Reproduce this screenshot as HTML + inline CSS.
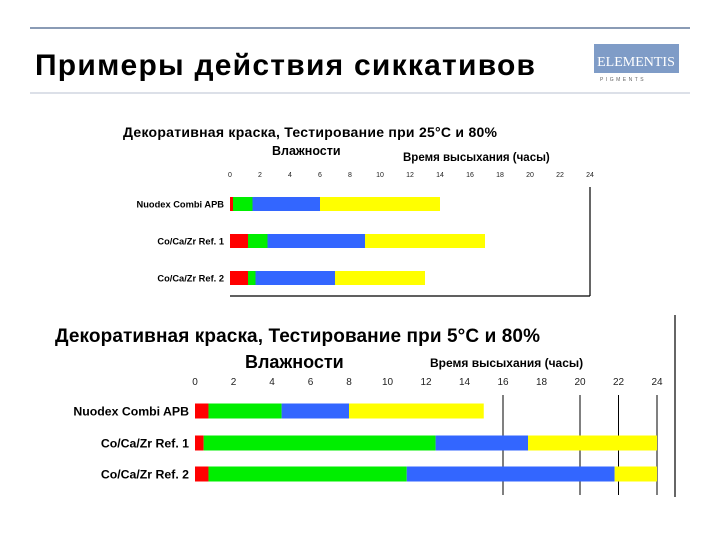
<!DOCTYPE html>
<html><head><meta charset="utf-8"><style>
body{margin:0;background:#fff}
svg text{font-family:"Liberation Sans",sans-serif}
</style></head><body>
<svg width="720" height="540" viewBox="0 0 720 540" xmlns="http://www.w3.org/2000/svg">
<line x1="30" y1="28" x2="690" y2="28" stroke="#8a9bb5" stroke-width="2"/>
<line x1="30" y1="93" x2="690" y2="93" stroke="#b8c2d2" stroke-width="1"/>
<text x="35" y="75" font-size="30" font-weight="bold" fill="#000" textLength="500">Примеры действия сиккативов</text>
<g>
<rect x="594" y="44" width="85" height="29" fill="#7f9cc7"/>
<text x="636" y="66" font-size="14" fill="#fff" text-anchor="middle" font-family="Liberation Serif" style="font-family:'Liberation Serif',serif">ELEMENTIS</text>
<text x="600" y="81" font-size="5" fill="#666" letter-spacing="2.5">PIGMENTS</text>
</g>
<g id="c1"></g>
<g id="c2"></g>
</svg>
<script>
const categories=["Nuodex Combi APB","Co/Ca/Zr Ref. 1","Co/Ca/Zr Ref. 2"];
const ticks=[0,2,4,6,8,10,12,14,16,18,20,22,24];
const colors=["#ff0000","#00ee00","#3366ff","#ffff00"];
// cumulative stage ends (hours): red, green, blue, yellow
const chart1Ends=[[0.2,1.5,6,14],[1.2,2.5,9,17],[1.2,1.7,7,13]];
const chart2Ends=[[0.7,4.5,8,15],[0.45,12.5,17.3,24],[0.7,11,21.8,24]];
const chart2Grid=[16,20,22,24];
const NS="http://www.w3.org/2000/svg";
function mk(p,tag,a,txt){const e=document.createElementNS(NS,tag);for(const k in a)e.setAttribute(k,a[k]);if(txt!==undefined)e.textContent=txt;p.appendChild(e);return e;}
function draw(g,o){
 const x=v=>o.x0+v*(o.x1-o.x0)/24;
 let t=mk(g,'text',{x:o.tx,y:o.ty,'font-size':o.tfs,'font-weight':'bold',textLength:o.tlen},o.title);
 
 
 t=mk(g,'text',{x:o.t2x,y:o.t2y,'font-size':o.t2fs,'font-weight':'bold'},'Влажности');
 
 
 t=mk(g,'text',{x:o.axx,y:o.axy,'font-size':o.axfs,'font-weight':'bold'},'Время высыхания (часы)');
 
 
 ticks.forEach(v=>{const e=mk(g,'text',{x:x(v),y:o.tky,'font-size':o.tkfs,'text-anchor':'middle',fill:'#222'},String(v));
  
  });
 (o.grid||[]).forEach(v=>{const l=mk(g,'line',{x1:x(v),x2:x(v),y1:o.gy0,y2:o.gy1,stroke:'#000','stroke-width':1});
  
  });
 categories.forEach((c,i)=>{const cy=o.ys[i];
  const lb=mk(g,'text',{x:o.x0-6,y:cy+o.lfs*0.35,'font-size':o.lfs,'font-weight':'bold','text-anchor':'end'},c);
  
  
  let prev=0;o.ends[i].forEach((e,j)=>{const r=mk(g,'rect',{x:x(prev),y:cy-o.bh/2,width:x(e)-x(prev),height:o.bh,fill:colors[j]});
   
   prev=e;});
 });
}
draw(document.getElementById('c1'),{x0:230,x1:590,title:'Декоративная краска, Тестирование при 25°C и 80%',tx:123,ty:137,tfs:14,tlen:374,t2x:272,t2y:155,t2fs:12.5,axx:403,axy:161,axfs:11.5,tky:177,tkfs:7,ys:[204,241,278],bh:14,lfs:9.3,ends:chart1Ends});
draw(document.getElementById('c2'),{x0:195,x1:657,title:'Декоративная краска, Тестирование при 5°C и 80%',tx:55,ty:342,tfs:19,tlen:485,t2x:245,t2y:368,t2fs:18,axx:430,axy:367,axfs:12,tky:385,tkfs:10,ys:[411,443,474],bh:15,lfs:12.3,ends:chart2Ends,grid:chart2Grid,gy0:395,gy1:495});
const s=document.querySelector('svg');
function L(a,n){const l=mk(s,'line',Object.assign({stroke:'#000','stroke-width':1.2},a));
 
 }
L({x1:230,y1:296,x2:590,y2:296},'chart1-x-axis');
L({x1:590,y1:187,x2:590,y2:296},'chart1-right-border');
L({x1:675,y1:315,x2:675,y2:497},'chart2-right-border');
</script>
</body></html>
